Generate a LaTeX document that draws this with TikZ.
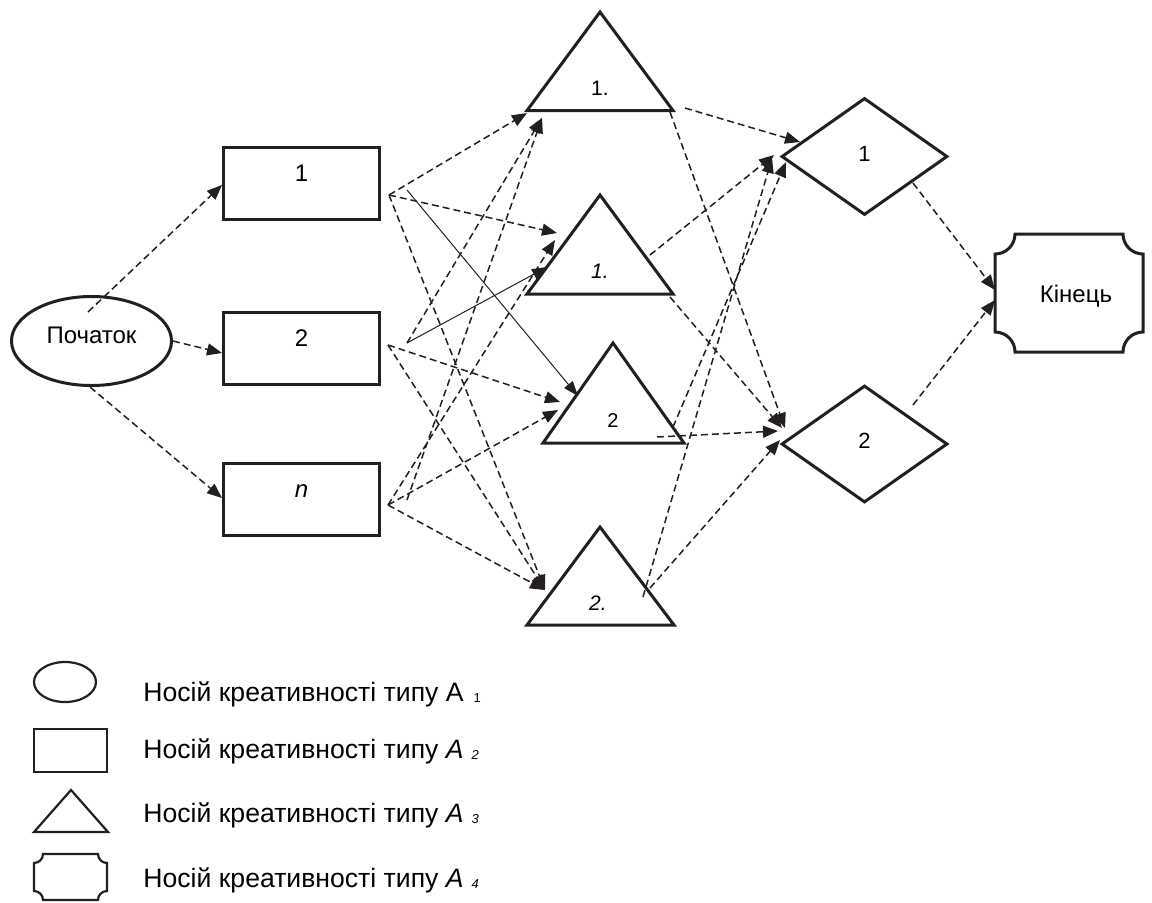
\documentclass[tikz,border=0pt]{standalone}
\usepackage{fontspec}
\setmainfont{Liberation Sans}
\usetikzlibrary{shapes.geometric, arrows.meta}
\definecolor{ink}{RGB}{35,31,32}
\tikzset{
  outline/.style={draw=ink, line width=1.5pt},
  startnode/.style={ellipse, outline, minimum width=80pt, minimum height=44.5pt,
    font=\fontsize{12}{14}\selectfont, text height=8.6pt, text depth=6.6pt},
  box/.style={rectangle, outline, minimum width=78pt, minimum height=36pt,
    font=\fontsize{12}{14}\selectfont, text height=9pt, text depth=11.5pt},
  choice/.style={diamond, outline, minimum width=83pt, minimum height=58.5pt,
    font=\fontsize{11}{13}\selectfont, text height=7.9pt, text depth=3.4pt},
  trilabel/.style={anchor=base, inner sep=0pt, font=\fontsize{10.5}{12}\selectfont},
  endlabel/.style={anchor=base, inner sep=0pt, font=\fontsize{12}{14}\selectfont},
  keyshape/.style={draw=ink, line width=1.1pt},
  keytext/.style={anchor=base west, inner sep=0pt, font=\fontsize{13.3}{16}\selectfont},
  dline/.style={draw=ink, line width=0.75pt, dash pattern=on 3.5pt off 2pt,
    -{Triangle[length=7.5pt,width=6pt]}},
  tline/.style={draw=ink, line width=0.5pt, -{Triangle[length=7.5pt,width=5.5pt]}}
}
\newcommand{\subnum}[1]{\raisebox{-0.7pt}{\fontsize{6.5}{7}\selectfont #1}}

\begin{document}
\begin{tikzpicture}[x=0.5pt, y=-0.5pt, line join=miter]
  \useasboundingbox (0,0) rectangle (1152,902);

  % start, boxes and diamonds
  \node[startnode] (start) at (91.5,341) {Початок};
  \node[box] (r1) at (301.5,183.5) {1};
  \node[box] (r2) at (301.5,348.5) {2};
  \node[box] (rn) at (301.5,499.5) {\textit{n}};
  \node[choice] (d1) at (864.5,156.5) {1};
  \node[choice] (d2) at (864.5,444) {2};

  % triangles
  \draw[outline] (527,110.5) -- (600,12) -- (673,110.5) -- cycle;
  \draw[outline] (527,294) -- (600,195) -- (673,294) -- cycle;
  \draw[outline] (543,443) -- (613,343) -- (684,443) -- cycle;
  \draw[outline] (527,625) -- (600,527) -- (674,625) -- cycle;
  \node[trilabel] (t1) at (600,95) {1.};
  \node[trilabel] (t2) at (600,278) {\textit{1.}};
  \node[trilabel, font=\fontsize{10}{12}\selectfont] (t3) at (613,427) {2};
  \node[trilabel] (t4) at (598,610) {\textit{2.}};

  % end block with cut-in corners
  \draw[outline] (1015,234) -- (1123,234) arc[start angle=180, end angle=90, radius=20]
    -- (1143,332) arc[start angle=270, end angle=180, radius=20]
    -- (1015,352) arc[start angle=0, end angle=-90, radius=20]
    -- (995,254) arc[start angle=90, end angle=0, radius=20] -- cycle;
  \node[endlabel] (fin) at (1076,302) {Кінець};

  % connector ends
  \coordinate (s1) at (88,312);
  \coordinate (s2) at (173,341);
  \coordinate (s3) at (90,387);
  \coordinate (r1in) at (222,185);
  \coordinate (r2in) at (222,353);
  \coordinate (rnin) at (222,498);
  \coordinate (r1a) at (389,195);
  \coordinate (r1b) at (407,190);
  \coordinate (r2a) at (388,345);
  \coordinate (r2b) at (407,343);
  \coordinate (rna) at (388,505);
  \coordinate (rnb) at (407,500);
  \coordinate (t1a) at (527,113);
  \coordinate (t1b) at (542,118);
  \coordinate (t2a) at (557,233);
  \coordinate (t2b) at (555,240);
  \coordinate (t2c) at (547,267);
  \coordinate (t3a) at (578,396);
  \coordinate (t3b) at (560,402);
  \coordinate (t3c) at (558,410);
  \coordinate (t4a) at (545,590);
  \coordinate (t1o) at (685,108);
  \coordinate (t1p) at (670,112);
  \coordinate (t2o) at (650,255);
  \coordinate (t2p) at (670,297);
  \coordinate (t3o) at (673,427);
  \coordinate (t3p) at (657,437);
  \coordinate (t4o) at (643,597);
  \coordinate (t4p) at (650,588);
  \coordinate (d1a) at (800,142);
  \coordinate (d1b) at (774,155);
  \coordinate (d1c) at (786,162);
  \coordinate (d1d) at (772,158);
  \coordinate (d2a) at (785,428);
  \coordinate (d2b) at (782,428);
  \coordinate (d2c) at (778,431);
  \coordinate (d2d) at (780,440);
  \coordinate (d1o) at (913,183);
  \coordinate (d2o) at (913,405);
  \coordinate (fina) at (995,290);
  \coordinate (finb) at (995,300);

  % start to boxes
  \draw[dline] (s1) -- (r1in);
  \draw[dline] (s2) -- (r2in);
  \draw[dline] (s3) -- (rnin);

  % boxes to triangles
  \draw[dline] (r1a) -- (t1a);
  \draw[dline] (r1a) -- (t2a);
  \draw[tline] (r1b) -- (t3a);
  \draw[dline] (r1a) -- (t4a);
  \draw[dline] (r2b) -- (t1b);
  \draw[tline] (r2b) -- (t2c);
  \draw[dline] (r2a) -- (t3b);
  \draw[dline] (r2a) -- (t4a);
  \draw[dline] (rnb) -- (t1b);
  \draw[dline] (rna) -- (t2b);
  \draw[dline] (rna) -- (t3c);
  \draw[dline] (rna) -- (t4a);

  % triangles to diamonds
  \draw[dline] (t1o) -- (d1a);
  \draw[dline] (t1p) -- (d2a);
  \draw[dline] (t2o) -- (d1b);
  \draw[dline] (t2p) -- (d2b);
  \draw[dline] (t3o) -- (d1c);
  \draw[dline] (t3p) -- (d2c);
  \draw[dline] (t4o) -- (d1d);
  \draw[dline] (t4p) -- (d2d);

  % diamonds to the end block
  \draw[dline] (d1o) -- (fina);
  \draw[dline] (d2o) -- (finb);

  % key
  \draw[keyshape] (65,682) ellipse[x radius=31, y radius=20];
  \draw[keyshape] (34,729) rectangle (107,772);
  \draw[keyshape] (34,832) -- (71,790) -- (108,832) -- cycle;
  \draw[keyshape] (43,854) -- (98,854) arc[start angle=180, end angle=90, radius=9]
    -- (107,891) arc[start angle=270, end angle=180, radius=9]
    -- (43,900) arc[start angle=0, end angle=-90, radius=9]
    -- (34,863) arc[start angle=90, end angle=0, radius=9] -- cycle;
  \node[keytext] (k1) at (143,701) {Носій креативності типу А\hspace{5pt}\subnum{1}};
  \node[keytext] (k2) at (143,758) {Носій креативності типу \textit{А\hspace{4pt}\subnum{2}}};
  \node[keytext] (k3) at (143,822) {Носій креативності типу \textit{А\hspace{4pt}\subnum{3}}};
  \node[keytext] (k4) at (143,887) {Носій креативності типу \textit{А\hspace{4pt}\subnum{4}}};
\end{tikzpicture}
\end{document}
